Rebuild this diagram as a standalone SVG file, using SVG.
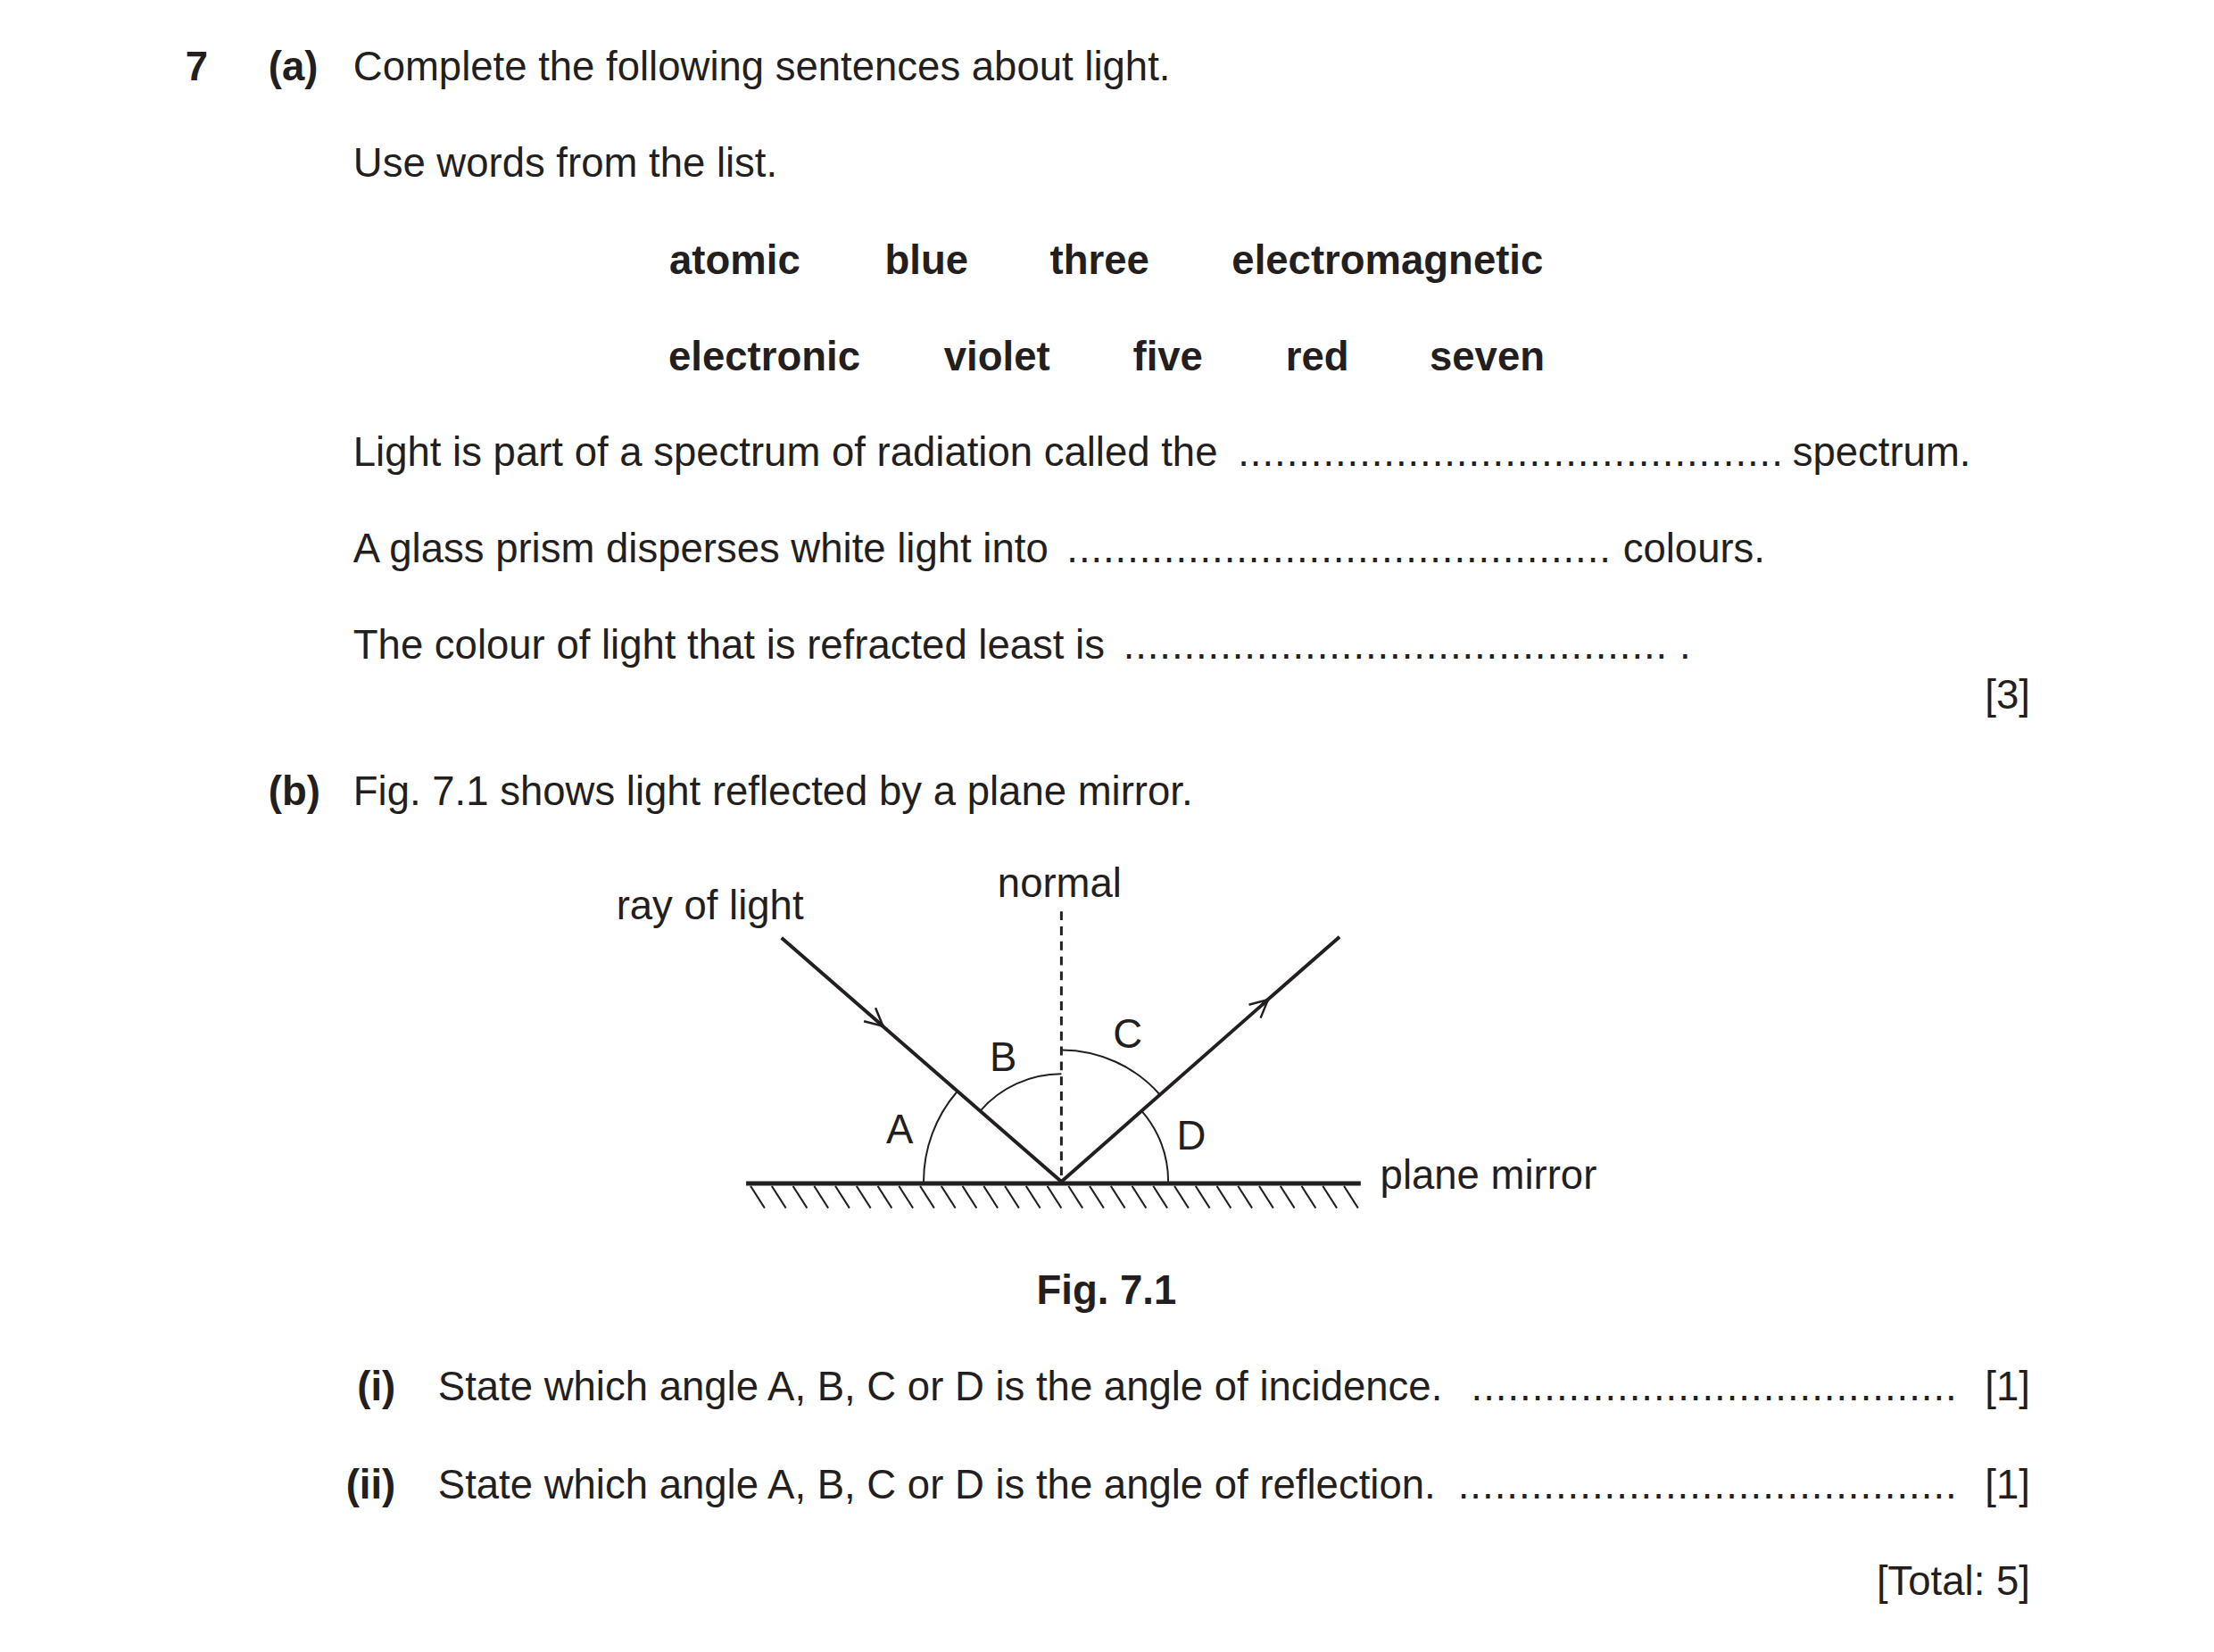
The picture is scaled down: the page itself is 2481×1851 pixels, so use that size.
<svg xmlns="http://www.w3.org/2000/svg" width="2481" height="1851" viewBox="0 0 2481 1851">
<style>
text{font-family:"Liberation Sans",Arial,sans-serif;font-size:46px;fill:#231f20}
.b{font-weight:bold}
.m{text-anchor:middle}
.r{text-anchor:end}
.ln{stroke:#231f20;fill:none}
</style>
<defs>
<marker id="ah" viewBox="0 0 24 24" refX="22" refY="12" markerWidth="24" markerHeight="24" markerUnits="userSpaceOnUse" orient="auto"><path d="M2,2 L22,12 L2,22" fill="none" stroke="#231f20" stroke-width="2.5"/></marker>
</defs>
<rect width="2481" height="1851" fill="#fff"/>
<g transform="scale(0.9895)">
<g id="text-a">
<text x="210" y="91" class="b">7</text>
<text x="304" y="91" class="b">(a)</text>
<text x="400" y="91">Complete the following sentences about light.</text>
<text x="400" y="200">Use words from the list.</text>
<text x="758" y="310" class="b">atomic</text>
<text x="1002" y="310" class="b">blue</text>
<text x="1189" y="310" class="b">three</text>
<text x="1395" y="310" class="b">electromagnetic</text>
<text x="757" y="419" class="b">electronic</text>
<text x="1069" y="419" class="b">violet</text>
<text x="1283" y="419" class="b">five</text>
<text x="1456" y="419" class="b">red</text>
<text x="1619" y="419" class="b">seven</text>
<text x="400" y="528">Light is part of a spectrum of radiation called the</text>
<text x="1402" y="528" textLength="617" lengthAdjust="spacing">.............................................</text>
<text x="2030" y="528">spectrum.</text>
<text x="400" y="637">A glass prism disperses white light into</text>
<text x="1208" y="637" textLength="616" lengthAdjust="spacing">.............................................</text>
<text x="1838" y="637">colours.</text>
<text x="400" y="746">The colour of light that is refracted least is</text>
<text x="1272" y="746" textLength="616" lengthAdjust="spacing">.............................................</text>
<text x="1902" y="746">.</text>
<text x="2299" y="802" class="r">[3]</text>
<text x="304" y="912" class="b">(b)</text>
<text x="400" y="912">Fig. 7.1 shows light reflected by a plane mirror.</text>
</g>
<g id="mirror">
<line x1="845" y1="1340" x2="1541" y2="1340" class="ln" stroke-width="5"/>
<path class="ln" stroke-width="2" d="M850,1343 l16,25 M874,1343 l16,25 M898,1343 l16,25 M922,1343 l16,25 M946,1343 l16,25 M970,1343 l16,25 M994,1343 l16,25 M1018,1343 l16,25 M1042,1343 l16,25 M1066,1343 l16,25 M1090,1343 l16,25 M1114,1343 l16,25 M1138,1343 l16,25 M1162,1343 l16,25 M1186,1343 l16,25 M1210,1343 l16,25 M1234,1343 l16,25 M1258,1343 l16,25 M1282,1343 l16,25 M1306,1343 l16,25 M1330,1343 l16,25 M1354,1343 l16,25 M1378,1343 l16,25 M1402,1343 l16,25 M1426,1343 l16,25 M1450,1343 l16,25 M1474,1343 l16,25 M1498,1343 l16,25 M1522,1343 l16,25"/>
</g>
<g id="normal">
<line x1="1202" y1="1032" x2="1202" y2="1338" class="ln" stroke-width="3" stroke-dasharray="10,7"/>
</g>
<g id="connectors">
<line x1="885" y1="1062" x2="1000" y2="1162" class="ln" stroke-width="4" marker-end="url(#ah)"/>
<line x1="995" y1="1158" x2="1202" y2="1338" class="ln" stroke-width="4"/>
<line x1="1202" y1="1338" x2="1436" y2="1132" class="ln" stroke-width="4" marker-end="url(#ah)"/>
<line x1="1430" y1="1137" x2="1517" y2="1061" class="ln" stroke-width="4"/>
</g>
<g id="arcs">
<path class="ln" stroke-width="2" d="M1046,1338 A156,156 0 0 1 1084,1236"/>
<path class="ln" stroke-width="2" d="M1110,1258 A122,122 0 0 1 1202,1216"/>
<path class="ln" stroke-width="2" d="M1202,1189 A149,149 0 0 1 1314,1240"/>
<path class="ln" stroke-width="2" d="M1293,1258 A121,121 0 0 1 1323,1338"/>
</g>
<g id="labels">
<text x="698" y="1041">ray of light</text>
<text x="1200" y="1016" class="m">normal</text>
<text x="1019" y="1295" class="m">A</text>
<text x="1136" y="1213" class="m">B</text>
<text x="1277" y="1186" class="m">C</text>
<text x="1349" y="1302" class="m">D</text>
<text x="1563" y="1346">plane mirror</text>
<text x="1253" y="1476" class="m b">Fig. 7.1</text>
</g>
<g id="text-b">
<text x="448" y="1586" class="r b">(i)</text>
<text x="496" y="1586">State which angle A, B, C or D is the angle of incidence.</text>
<text x="1666" y="1586" textLength="550" lengthAdjust="spacing">........................................</text>
<text x="2299" y="1586" class="r">[1]</text>
<text x="448" y="1697" class="r b">(ii)</text>
<text x="496" y="1697">State which angle A, B, C or D is the angle of reflection.</text>
<text x="1651" y="1697" textLength="565" lengthAdjust="spacing">.........................................</text>
<text x="2299" y="1697" class="r">[1]</text>
<text x="2299" y="1806" class="r">[Total: 5]</text>
</g>
</g>
</svg>
